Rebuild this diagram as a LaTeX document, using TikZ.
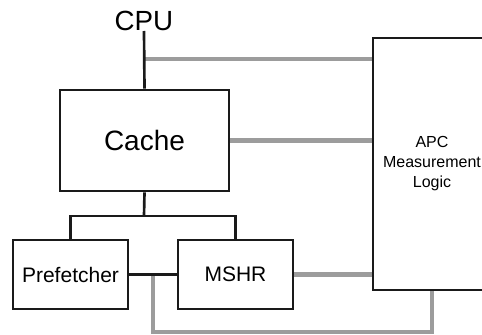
\documentclass[tikz,border=0pt]{standalone}
\usepackage{fontspec}
\setmainfont{Liberation Sans}
\definecolor{wire}{HTML}{1A1A1A}
\definecolor{probe}{HTML}{9C9C9C}
\begin{document}
\begin{tikzpicture}[x=0.75pt,y=-0.75pt,
  block/.style={draw=wire,line width=2pt,fill=white,inner sep=0pt,align=center},
  link/.style={draw=wire,line width=2pt},
  tap/.style={draw=probe,line width=3.5pt},
]
\useasboundingbox (0,0) rectangle (482,335);
\clip (0,0) rectangle (482,335);

% blocks
\node[inner sep=0pt,anchor=south,font=\fontsize{20.8}{22}\selectfont] (cpu) at (144,31) {CPU};
\node[block,minimum width={169*0.75pt},minimum height={101*0.75pt},font=\fontsize{21}{24}\selectfont] (cache) at (144.5,140.5) {Cache};
\node[block,minimum width={115*0.75pt},minimum height={69*0.75pt},font=\fontsize{15.75}{18}\selectfont] (pref) at (70.5,274.5) {Prefetcher};
\node[block,minimum width={115*0.75pt},minimum height={69*0.75pt},font=\fontsize{15.75}{18}\selectfont] (mshr) at (235.5,274.5) {MSHR};
\node[block,minimum width={118*0.75pt},minimum height={252*0.75pt},font=\fontsize{12}{15}\selectfont] (apc) at (432,164) {APC\\Measurement\\Logic};

% monitoring taps into the measurement logic
\coordinate (tapcpu) at (144,59);
\coordinate (tapbus) at (153,275);
\coordinate (busbot) at (153,332);
\draw[tap] (tapcpu) -- (apc.west |- tapcpu);
\draw[tap] (cache.east) -- (apc.west |- cache.east);
\draw[tap] (mshr.east) -- (apc.west |- mshr.east);
\draw[tap] (tapbus) -- (busbot) -| (apc.south);

% datapath
\coordinate (bus) at (144,216);
\draw[link] (cpu.south) -- (cache.north);
\draw[link] (cache.south) -- (bus);
\draw[link] (pref.north) |- (bus) -| (mshr.north);
\draw[link] (pref.east) -- (mshr.west);
\end{tikzpicture}
\end{document}
